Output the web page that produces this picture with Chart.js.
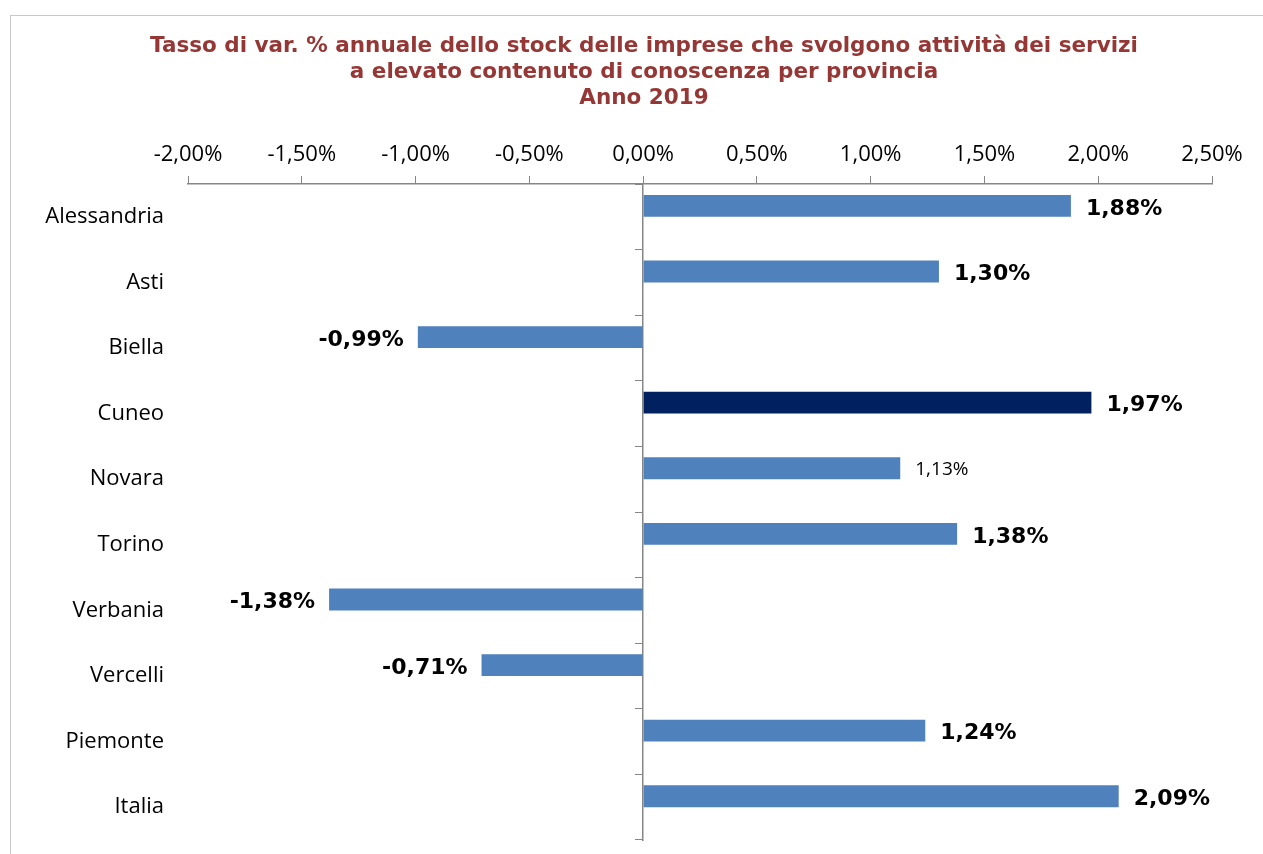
<!DOCTYPE html>
<html>
<head>
<meta charset="utf-8">
<script src="https://cdn.jsdelivr.net/npm/chart.js@4.4.1/dist/chart.umd.min.js"></script>
<style>
  body { margin: 0; background: #fff; overflow: hidden; }
  #wrap { position: relative; width: 1263px; height: 854px; }
  #frame { position: absolute; left: 10px; top: 15px; width: 1300px; height: 900px; border: 1.5px solid #c8c8c8; pointer-events: none; }
</style>
</head>
<body>
<div id="wrap">
  <canvas id="grafico" width="1263" height="854"></canvas>
  <div id="frame"></div>
</div>
<script>
// dati
const province = ["Alessandria", "Asti", "Biella", "Cuneo", "Novara", "Torino", "Verbania", "Vercelli", "Piemonte", "Italia"];
const variazione = [1.88, 1.30, -0.99, 1.97, 1.13, 1.38, -1.38, -0.71, 1.24, 2.09];
const vuoto = [null, null, null, null, null, null, null, null, null, null];
const tickMin = -2.0;
const tickMax = 2.5;
const tickStep = 0.5;

const titolo = [
  "Tasso di var. % annuale dello stock delle imprese che svolgono attività dei servizi",
  "a elevato contenuto di conoscenza per provincia",
  "Anno 2019"
];

function fmt(v) {
  return v.toFixed(2).replace(".", ",") + "%";
}

const coloreBarre = province.map(p => p === "Cuneo" ? "#002060" : "#4F81BD");

// titolo centrato sulla cornice (non sull'area del grafico)
const titoloPlugin = {
  id: "titoloPlugin",
  afterDraw(chart) {
    const ctx = chart.ctx;
    ctx.save();
    ctx.fillStyle = "#953735";
    ctx.font = "bold 21.5px 'DejaVu Sans'";
    ctx.textAlign = "center";
    ctx.textBaseline = "middle";
    titolo.forEach((riga, i) => ctx.fillText(riga, 644, 46 + i * 26));
    ctx.restore();
  }
};

// etichette dei valori accanto alle barre
const etichette = {
  id: "etichette",
  afterDatasetsDraw(chart) {
    const ctx = chart.ctx;
    const meta = chart.getDatasetMeta(0);
    ctx.save();
    ctx.textBaseline = "middle";
    ctx.fillStyle = "#000";
    meta.data.forEach((bar, i) => {
      const v = variazione[i];
      let dy = 3;
      if (province[i] === "Novara") {
        ctx.font = "19px 'Open Sans'";
        dy = 1;
      } else {
        ctx.font = "bold 22px 'DejaVu Sans'";
      }
      if (v >= 0) {
        ctx.textAlign = "left";
        ctx.fillText(fmt(v), bar.x + 15, bar.y + dy);
      } else {
        ctx.textAlign = "right";
        ctx.fillText(fmt(v), bar.x - 14, bar.y + dy);
      }
    });
    ctx.restore();
  }
};

new Chart(document.getElementById("grafico"), {
  type: "bar",
  data: {
    labels: province,
    datasets: [
      {
        data: variazione,
        backgroundColor: coloreBarre,
        categoryPercentage: 2 / 3,
        barPercentage: 1.0
      },
      {
        data: vuoto,
        backgroundColor: "#4F81BD",
        categoryPercentage: 2 / 3,
        barPercentage: 1.0
      }
    ]
  },
  options: {
    indexAxis: "y",
    responsive: false,
    animation: false,
    layout: { padding: { left: 0, right: 51, top: 121, bottom: 14 } },
    plugins: {
      legend: { display: false },
      tooltip: { enabled: false },
      title: { display: false }
    },
    scales: {
      x: {
        position: "top",
        min: tickMin,
        max: tickMax,
        ticks: {
          stepSize: tickStep,
          color: "#000",
          font: { family: "'Open Sans'", size: 22 },
          padding: 8,
          maxRotation: 0,
          callback: v => fmt(v)
        },
        grid: { drawOnChartArea: false, tickLength: 8, color: "#868686" },
        border: { color: "#868686", width: 1.5 },
        afterFit: s => { s.height = 63; }
      },
      y: {
        grid: { display: true, drawOnChartArea: false, drawTicks: true, tickLength: 24, color: "rgba(0,0,0,0)" },
        border: { display: false },
        ticks: {
          color: "#000",
          font: { family: "'Open Sans'", size: 22, lineHeight: 1.0 },
          padding: 0
        },
        afterFit: s => { s.width = 188; }
      },
      y2: {
        type: "category",
        position: { x: 0 },
        offset: true,
        grid: { offset: true, drawOnChartArea: false, tickLength: 7, color: "#868686" },
        border: { color: "#868686", width: 1.5 },
        ticks: { display: false }
      }
    }
  },
  plugins: [etichette, titoloPlugin]
});
</script>
</body>
</html>
